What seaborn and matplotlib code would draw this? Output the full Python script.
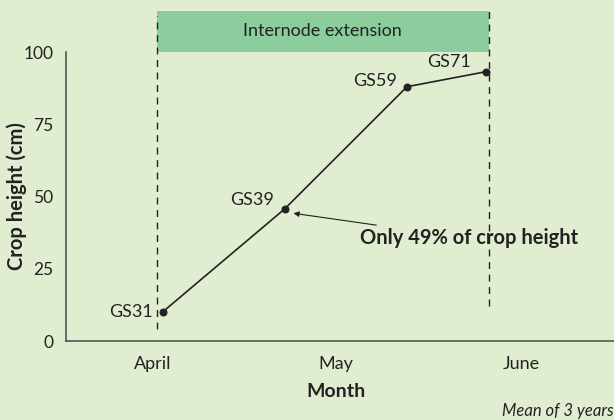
import matplotlib.pyplot as plt
import seaborn as sns
import pandas as pd
from matplotlib.ticker import FixedLocator, NullFormatter

# Crop height by growth stage (x in months from start of April)
stages = ["GS31", "GS39", "GS59", "GS71"]
month_pos = [0.53, 1.197, 1.867, 2.30]
height_cm = [10.1, 45.7, 88.0, 93.2]

months = ["April", "May", "June"]
month_label_pos = [0.475, 1.475, 2.49]
y_ticks = [0, 25, 50, 75, 100]

# internode extension period (start / end, month units)
ext_start = 0.497
ext_end = 2.313

bg = "#e0edd0"
band = "#8bcd9d"
ink = "#222222"
spine = "#555555"

sns.set_style("white")
plt.rcParams["font.family"] = ["Lato", "DejaVu Sans"]

df = pd.DataFrame({"stage": stages, "month": month_pos, "height": height_cm})

fig = plt.figure(figsize=(6.14, 4.2), dpi=100, facecolor=bg)
ax = fig.add_axes([66 / 614, 79 / 420, 548 / 614, 341 / 420])
ax.set_facecolor(bg)

# green band and dashed period markers
ax.fill_between([ext_start, ext_end], 100, 114.2, color=band, lw=0, zorder=1)
ax.text((ext_start + ext_end) / 2, 107.3, "Internode extension",
        ha="center", va="center", fontsize=13, color=ink)
ax.plot([ext_start, ext_start], [4, 112.5], ls=(0, (5, 4)), color=ink, lw=1)
ax.plot([ext_end, ext_end], [12, 114.2], ls=(0, (5, 4)), color=ink, lw=1)

sns.lineplot(data=df, x="month", y="height", ax=ax, color=ink, lw=1.2,
             marker="o", markersize=5, markeredgecolor=ink, zorder=3)

# stage labels: offsets in points from each marker
offsets = {"GS31": (-7, 0), "GS39": (-7.5, 6.5),
           "GS59": (-7.5, 4), "GS71": (-11, 7)}
for s, x, y in zip(stages, month_pos, height_cm):
    dx, dy = offsets[s]
    ax.annotate(s, (x, y), xytext=(dx, dy), textcoords="offset points",
                ha="right", va="center", fontsize=13, color=ink)

ax.annotate("Only 49% of crop height", xy=(1.245, 44.2), xytext=(1.61, 35.5),
            fontsize=14.5, fontweight="bold", color=ink, ha="left", va="center",
            arrowprops=dict(arrowstyle="-|>", color=ink, lw=0.8,
                            mutation_scale=8, shrinkA=0, shrinkB=0))

ax.set_xlim(0, 3)
ax.set_ylim(0, 118)
ax.set_yticks(y_ticks)
ax.set_yticklabels([str(t) for t in y_ticks], fontsize=12.5, color=ink)
ax.xaxis.set_major_locator(FixedLocator([0, 1, 2, 3]))
ax.xaxis.set_major_formatter(NullFormatter())
ax.xaxis.set_minor_locator(FixedLocator(month_label_pos))
ax.set_xticklabels(months, minor=True, fontsize=13, color=ink)
ax.tick_params(axis="x", which="major", length=4, width=1, color=spine, direction="out")
ax.tick_params(axis="x", which="minor", length=0, pad=11)
ax.tick_params(axis="y", length=6, width=1, color=spine, direction="out", pad=3)

for side in ["top", "right"]:
    ax.spines[side].set_visible(False)
for side in ["left", "bottom"]:
    ax.spines[side].set_color(spine)
    ax.spines[side].set_linewidth(1.2)
ax.spines["left"].set_bounds(0, 100)

ax.set_xlabel("Month", fontsize=14, fontweight="bold", color=ink)
ax.xaxis.label.set_va("center")
ax.xaxis.set_label_coords(0.4927, -0.149)
ax.set_ylabel("Crop height (cm)", fontsize=14.5, fontweight="bold", color=ink)
ax.yaxis.label.set_va("center")
ax.yaxis.set_label_coords(-0.0895, 0.424)

fig.text(0.999, 0.022, "Mean of 3 years", ha="right", va="center",
         fontsize=12, style="italic", color=ink)

fig.savefig("out.png", dpi=100, facecolor=bg)
